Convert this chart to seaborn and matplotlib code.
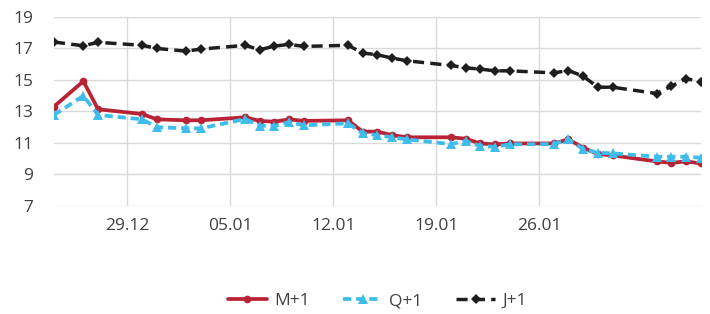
import pandas as pd
import seaborn as sns
import matplotlib.pyplot as plt
import matplotlib.dates as mdates

# trading days (Dec 2019 - Feb 2020)
dates = ['2019-12-24', '2019-12-26', '2019-12-27', '2019-12-30', '2019-12-31',
         '2020-01-02', '2020-01-03', '2020-01-06', '2020-01-07', '2020-01-08',
         '2020-01-09', '2020-01-10', '2020-01-13', '2020-01-14', '2020-01-15',
         '2020-01-16', '2020-01-17', '2020-01-20', '2020-01-21', '2020-01-22',
         '2020-01-23', '2020-01-24', '2020-01-27', '2020-01-28', '2020-01-29',
         '2020-01-30', '2020-01-31', '2020-02-03', '2020-02-04', '2020-02-05',
         '2020-02-06']

m1 = [13.31, 14.92, 13.14, 12.84, 12.50, 12.44, 12.44, 12.63, 12.40, 12.35,
      12.50, 12.40, 12.44, 11.72, 11.72, 11.50, 11.36, 11.36, 11.27, 10.97,
      10.91, 10.97, 10.97, 11.23, 10.70, 10.30, 10.21, 9.83, 9.74, 9.83, 9.70]

q1 = [12.78, 13.99, 12.78, 12.50, 12.00, 11.93, 11.93, 12.52, 12.10, 12.08,
      12.33, 12.12, 12.25, 11.61, 11.50, 11.36, 11.23, 10.93, 11.12, 10.80,
      10.76, 10.91, 10.93, 11.23, 10.61, 10.38, 10.34, 10.13, 10.13, 10.13, 10.06]

j1 = [17.41, 17.17, 17.39, 17.20, 17.00, 16.83, 16.96, 17.20, 16.92, 17.15,
      17.26, 17.13, 17.20, 16.71, 16.60, 16.39, 16.22, 15.92, 15.77, 15.69,
      15.58, 15.58, 15.45, 15.60, 15.24, 14.54, 14.54, 14.14, 14.60, 15.09, 14.88]

xticks = ['2019-12-29', '2020-01-05', '2020-01-12', '2020-01-19', '2020-01-26']

df = pd.DataFrame({'date': pd.to_datetime(dates), 'M+1': m1, 'Q+1': q1, 'J+1': j1})

sns.set_style('white')
plt.rcParams['font.family'] = ['Open Sans', 'DejaVu Sans']

fig = plt.figure(figsize=(7.1, 3.14), dpi=100)
ax = fig.add_axes([0.076, 0.344, 0.911, 0.602])

sns.lineplot(data=df, x='date', y='M+1', ax=ax, color='#B82436', lw=2.7,
             marker='o', markersize=5.5, markeredgewidth=0, label='M+1')
sns.lineplot(data=df, x='date', y='Q+1', ax=ax, color='#3EBDEC', lw=2.7,
             marker='^', markersize=6.5, markeredgewidth=0, label='Q+1',
             linestyle=(0, (2.2, 1.3)))
sns.lineplot(data=df, x='date', y='J+1', ax=ax, color='#1E1E1E', lw=2.5,
             marker='D', markersize=5.5, markeredgewidth=0, label='J+1',
             linestyle=(0, (3.2, 1.8)))

ax.set_xlim(pd.Timestamp('2019-12-24'), pd.Timestamp('2020-02-06'))
ax.set_ylim(7, 19)
ax.set_yticks(range(7, 20, 2))
ax.set_xticks(pd.to_datetime(xticks))
ax.xaxis.set_major_formatter(mdates.DateFormatter('%d.%m'))
ax.set(xlabel='', ylabel='')

ax.grid(True, color='#D9D9D9', lw=1)
ax.set_axisbelow(True)
for s in ax.spines.values():
    s.set_visible(False)
ax.tick_params(axis='both', length=0, labelsize=12.5, labelcolor='#404040')
ax.tick_params(axis='x', pad=9)
ax.tick_params(axis='y', pad=15)

ax.legend(loc='center', bbox_to_anchor=(0.5, -0.503), ncol=3, frameon=False,
          fontsize=12.5, handlelength=2.25, handletextpad=0.4, columnspacing=1.95,
          labelcolor='#404040')

fig.savefig('out.png', dpi=100)
